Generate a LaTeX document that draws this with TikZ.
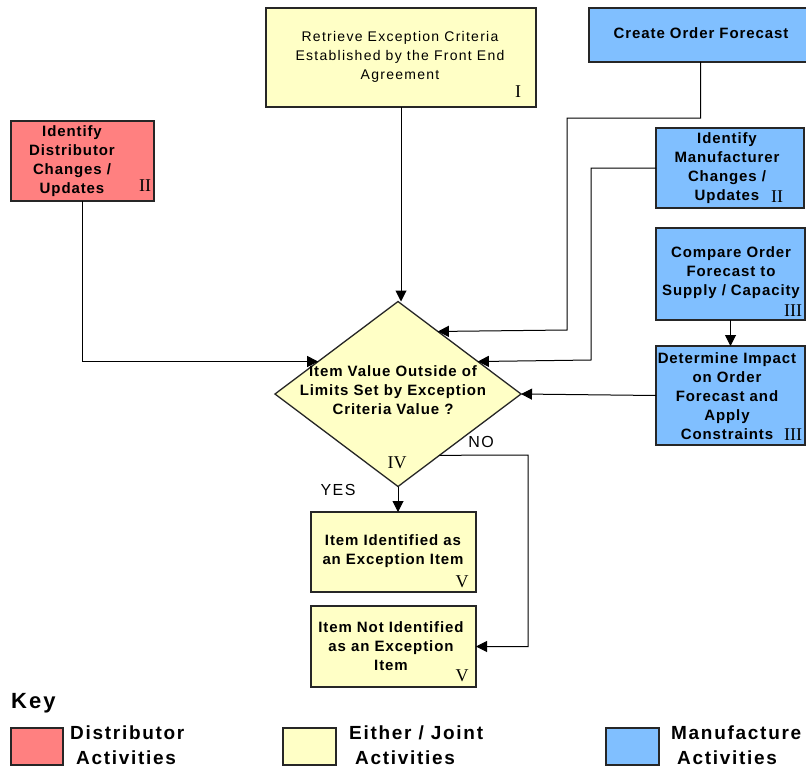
\documentclass[tikz,border=0pt]{standalone}
\usepackage{fontspec}
\setmainfont{Liberation Sans}[LetterSpace=9]
\newfontfamily\boldfont{Liberation Sans Bold}[LetterSpace=6]
\newfontfamily\numfont{Liberation Serif}
\usetikzlibrary{arrows.meta,shapes.geometric,calc}
\definecolor{distred}{HTML}{FF8080}
\definecolor{jointyellow}{HTML}{FFFFC6}
\definecolor{manublue}{HTML}{80BFFF}
\tikzset{
  box/.style={draw=black!85, line width=1.3pt, inner sep=0pt, outer sep=0pt},
  boldtext/.style={align=center, font=\boldfont\fontsize{15}{19}\selectfont, inner sep=0pt},
  plaintext/.style={align=center, font=\fontsize{14}{19}\selectfont, inner sep=0pt},
  numeral/.style={font=\numfont\fontsize{18}{18}\selectfont, inner sep=0pt},
  answer/.style={font=\fontsize{16}{16}\selectfont, inner sep=0pt},
  keytext/.style={align=left, font=\fontsize{19}{25}\selectfont\bfseries, inner sep=0pt, anchor=north west},
  flow/.style={draw=black, line width=1pt, -{Triangle[length=11pt,width=11pt]}},
}
\begin{document}
\begin{tikzpicture}[x=1pt,y=-1pt]
\useasboundingbox (0,0) rectangle (806,768);
\fill[white] (0,0) rectangle (806,768);

% process boxes
\node[box, fill=jointyellow, minimum width=270, minimum height=99] (top) at (401,57.5) {};
\node[box, fill=manublue, minimum width=223, minimum height=54] (create) at (700.5,35) {};
\node[box, fill=distred, minimum width=143, minimum height=80] (dist) at (82.5,161) {};
\node[box, fill=manublue, minimum width=148, minimum height=80] (manu) at (730,168) {};
\node[box, fill=manublue, minimum width=149, minimum height=92] (cmp) at (730.5,274) {};
\node[box, fill=manublue, minimum width=149, minimum height=99] (det) at (730.5,395.5) {};
\node[diamond, draw=black!85, line width=1.3pt, fill=jointyellow, inner sep=0pt, outer sep=0pt,
      minimum width=246, minimum height=185] (dia) at (398,394) {};
\node[box, fill=jointyellow, minimum width=165, minimum height=80] (itemid) at (393.5,552) {};
\node[box, fill=jointyellow, minimum width=165, minimum height=81] (itemnot) at (393.5,646.5) {};

% box texts
\node[plaintext] (topT) at (400,57) {Retrieve Exception Criteria\\Established by the Front End\\Agreement};
\node[boldtext] (createT) at (701,33) {Create Order Forecast};
\node[boldtext] (distT) at (72,161) {Identify\\Distributor\\Changes /\\Updates};
\node[boldtext] (manuT) at (727,168.5) {Identify\\Manufacturer\\Changes /\\Updates};
\node[boldtext] (cmpT) at (731,273) {Compare Order\\Forecast to\\Supply / Capacity};
\node[boldtext] (detT) at (727,396) {Determine Impact\\on Order\\Forecast and\\Apply\\Constraints};
\node[boldtext] (diaT) at (393,390) {Item Value Outside of\\Limits Set by Exception\\Criteria Value ?};
\node[boldtext] (idT) at (393,551.5) {Item Identified as\\an Exception Item};
\node[boldtext] (notT) at (391,646) {Item Not Identified\\as an Exception\\Item};

% phase numerals
\node[numeral] (n1) at (518,92) {I};
\node[numeral] (n2a) at (145,186) {II};
\node[numeral] (n2b) at (777,197) {II};
\node[numeral] (n3a) at (793,311) {III};
\node[numeral] (n3b) at (793,435) {III};
\node[numeral] (n4) at (397,463) {IV};
\node[numeral] (n5a) at (462,582) {V};
\node[numeral] (n5b) at (462,676) {V};

% connectors
\coordinate (inA) at ($(dia.north)!0.324!(dia.east)$);
\coordinate (inB) at ($(dia.north)!0.649!(dia.east)$);
\coordinate (inC) at ($(dia.north)!0.649!(dia.west)$);
\coordinate (outNo) at ($(dia.east)!0.663!(dia.south)$);
\draw[flow] (top.south) -- (top.south |- dia.north);
\draw[flow] (create.south) -- ++(0,56) -| (567,330) -- (inA);
\draw[flow] (manu.west) -| (591,360) -- (inB);
\draw[flow] (dist.south) |- (inC);
\draw[flow] (cmp.south) -- (det.north);
\draw[flow] (det.west) -- (dia.east);
\draw[flow] (dia.south) -- (dia.south |- itemid.north);
\draw[flow] (outNo) -- (528,455) |- (itemnot.east);

\node[answer] (yes) at (338,490) {YES};
\node[answer] (no) at (481,442) {NO};

% key
\node[anchor=west, inner sep=0pt, font=\fontsize{22}{22}\selectfont\bfseries] (key) at (11,703) {Key};
\node[box, fill=distred, minimum width=52, minimum height=37] (kred) at (37,746.5) {};
\node[box, fill=jointyellow, minimum width=53, minimum height=37] (kyel) at (309.5,746.5) {};
\node[box, fill=manublue, minimum width=53, minimum height=37] (kblue) at (632.5,746.5) {};
\node[keytext] (kredT) at (70,726) {Distributor\\\hspace*{6pt}Activities};
\node[keytext] (kyelT) at (349,726) {Either / Joint\\\hspace*{6pt}Activities};
\node[keytext] (kblueT) at (671,726) {Manufacture\\\hspace*{6pt}Activities};
\end{tikzpicture}
\end{document}
